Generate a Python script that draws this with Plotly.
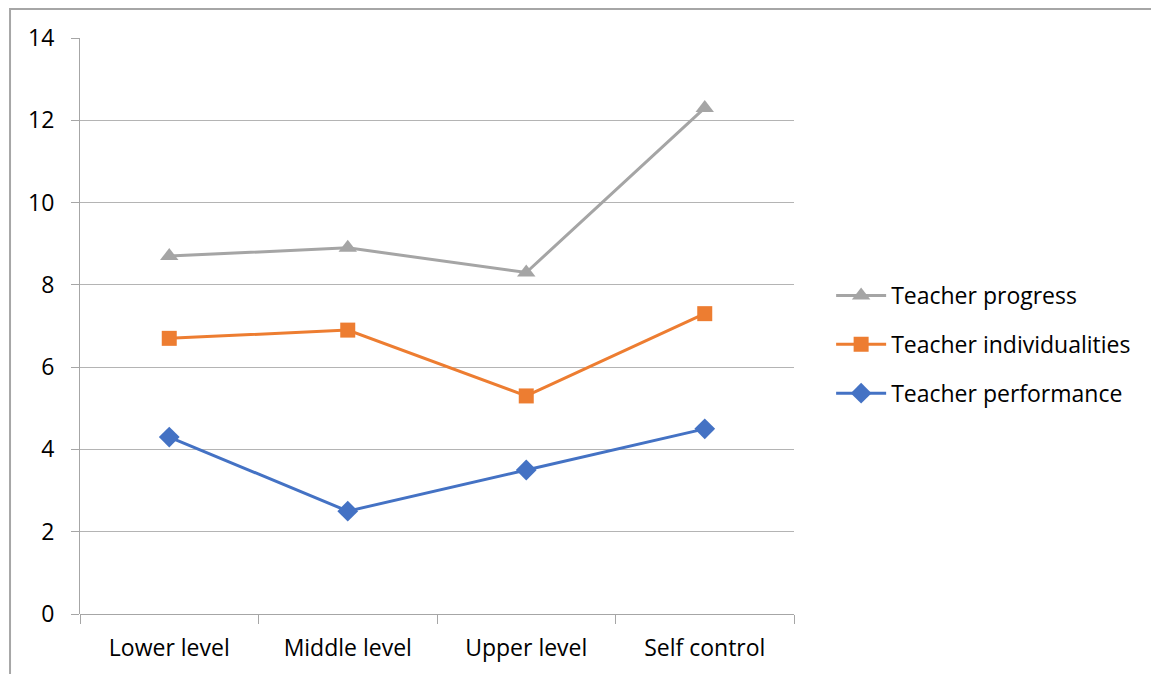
import plotly.graph_objects as go

categories = ["Lower level", "Middle level", "Upper level", "Self control"]
teacher_progress = [8.7, 8.9, 8.3, 12.3]
teacher_individualities = [6.7, 6.9, 5.3, 7.3]
teacher_performance = [4.3, 2.5, 3.5, 4.5]
y_ticks = [0, 2, 4, 6, 8, 10, 12, 14]

x_pos = list(range(len(categories)))
boundaries = [i - 0.5 for i in range(len(categories) + 1)]

FONT = "Open Sans"
GRID = "#b4b4b4"
AXIS = "#a6a6a6"

series = [
    ("Teacher progress", teacher_progress, "#a5a5a5", "triangle-up", 16),
    ("Teacher individualities", teacher_individualities, "#ed7d31", "square", 15),
    ("Teacher performance", teacher_performance, "#4472c4", "diamond", 16),
]

fig = go.Figure()
for name, vals, color, sym, size in series:
    fig.add_trace(go.Scatter(
        x=x_pos, y=vals, name=name, mode="lines+markers",
        line=dict(color=color, width=3),
        marker=dict(symbol=sym, size=size, color=color),
        legendgroup=name,
    ))

# invisible trace carrying the category-boundary tick marks
fig.add_trace(go.Scatter(x=boundaries, y=[0] * len(boundaries), xaxis="x2",
                         mode="markers", marker=dict(opacity=0),
                         showlegend=False, hoverinfo="skip"))

fig.update_layout(
    width=1151, height=674,
    margin=dict(l=80, r=357, t=38, b=60),
    paper_bgcolor="white", plot_bgcolor="white",
    font=dict(family=FONT, size=23, color="#000000"),
    showlegend=True,
    legend=dict(x=1.052, y=0.468, xanchor="left", yanchor="middle",
                font=dict(family=FONT, size=23, color="#000000"),
                tracegroupgap=16, itemwidth=50, bgcolor="rgba(0,0,0,0)"),
    xaxis=dict(range=[-0.5, 3.5], tickvals=x_pos, ticktext=categories,
               showgrid=False, zeroline=False, showline=False, ticks="",
               ticklabelstandoff=18, tickfont=dict(size=23), automargin=False),
    xaxis2=dict(range=[-0.5, 3.5], overlaying="x", tickvals=boundaries,
                ticks="outside", ticklen=9, tickcolor=AXIS, tickwidth=1,
                showticklabels=False, showgrid=False, zeroline=False,
                showline=False, side="bottom", automargin=False),
    yaxis=dict(range=[0, 14], tickvals=y_ticks, showgrid=True, gridcolor=GRID,
               gridwidth=1, zeroline=True, zerolinecolor=AXIS, zerolinewidth=1,
               showline=True, linecolor=AXIS, linewidth=1,
               ticks="outside", ticklen=8, tickcolor=AXIS,
               ticklabelstandoff=12, tickfont=dict(size=23), automargin=False),
    shapes=[dict(type="rect", xref="paper", yref="paper",
                 x0=-0.098, x1=1.8, y0=-0.3, y1=1.0503,
                 line=dict(color="#a6a6a6", width=2), fillcolor="rgba(0,0,0,0)",
                 layer="below")],
)

fig.write_html("out.html")
